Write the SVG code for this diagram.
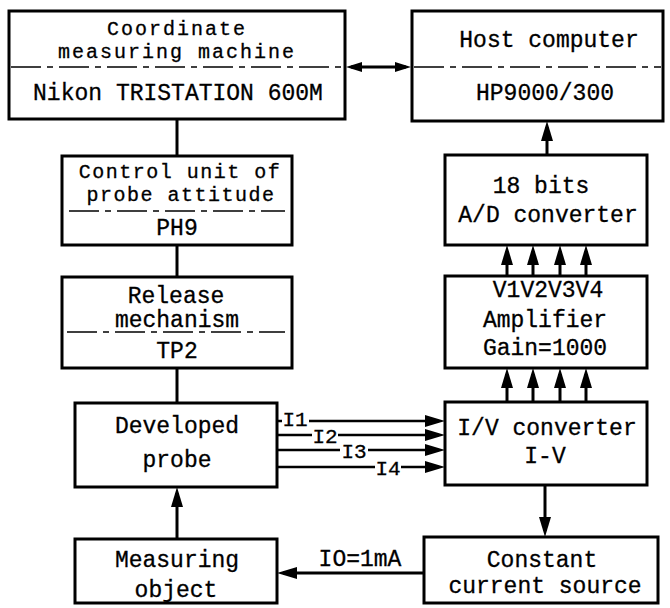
<svg xmlns="http://www.w3.org/2000/svg" width="670" height="608" viewBox="0 0 670 608">
<style>
.box{fill:#fff;stroke:#000;stroke-width:3}
.sep{stroke:#000;stroke-width:1.6;stroke-dasharray:30 6 6 6;fill:none}
.t{font-family:"Liberation Mono","DejaVu Sans Mono",monospace;font-size:23px;fill:#000;text-anchor:middle;stroke:#000;stroke-width:0.3}
.s{font-size:21px}
.n{font-size:20px;letter-spacing:2px}
.c{stroke:#000;stroke-width:3;fill:none}
.ci{stroke:#000;stroke-width:2.5;fill:none}
.a{marker-end:url(#ah)}
</style>
<defs>
<marker id="ah" markerUnits="userSpaceOnUse" markerWidth="20" markerHeight="12" refX="14" refY="6" orient="auto-start-reverse">
<path d="M0,0 L20,6 L0,12 z" fill="#000"/>
</marker>
<marker id="ahs" markerUnits="userSpaceOnUse" markerWidth="16" markerHeight="10" refX="11" refY="5" orient="auto-start-reverse">
<path d="M0,0 L16,5 L0,10 z" fill="#000"/>
</marker>
</defs>
<g id="connectors">
<line class="c" x1="177" y1="119" x2="177" y2="156"/>
<line class="c" x1="177" y1="245" x2="177" y2="277"/>
<line class="c" x1="177" y1="368" x2="177" y2="403"/>
<line class="c" x1="351" y1="67" x2="406" y2="67" marker-start="url(#ahs)" marker-end="url(#ahs)"/>
<line class="c a" x1="547" y1="155" x2="547" y2="127"/>
<line class="c a" x1="507" y1="276" x2="507" y2="251"/>
<line class="c a" x1="533" y1="276" x2="533" y2="251"/>
<line class="c a" x1="560" y1="276" x2="560" y2="251"/>
<line class="c a" x1="586" y1="276" x2="586" y2="251"/>
<line class="c a" x1="507" y1="402" x2="507" y2="374"/>
<line class="c a" x1="533" y1="402" x2="533" y2="374"/>
<line class="c a" x1="560" y1="402" x2="560" y2="374"/>
<line class="c a" x1="586" y1="402" x2="586" y2="374"/>
<line class="c a" x1="545" y1="485" x2="545" y2="531"/>
<line class="c a" x1="177" y1="539" x2="177" y2="493"/>
<line class="c a" x1="424" y1="573" x2="283" y2="573"/>
<line class="ci" x1="277" y1="421" x2="282" y2="421"/>
<line class="ci a" x1="309" y1="421" x2="439" y2="421"/>
<line class="ci" x1="277" y1="435" x2="312" y2="435"/>
<line class="ci a" x1="338" y1="435" x2="439" y2="435"/>
<line class="ci" x1="277" y1="450" x2="340" y2="450"/>
<line class="ci a" x1="368" y1="450" x2="439" y2="450"/>
<line class="ci" x1="277" y1="467" x2="375" y2="467"/>
<line class="ci a" x1="401" y1="467" x2="439" y2="467"/>
<text class="t s" x="295" y="426">I1</text>
<text class="t s" x="325" y="443">I2</text>
<text class="t s" x="354" y="458">I3</text>
<text class="t s" x="388" y="475">I4</text>
<text class="t" x="360" y="566">IO=1mA</text>
</g>
<g id="cmm">
<rect class="box" x="9" y="11" width="336" height="108"/>
<line class="sep" x1="11" y1="67" x2="343" y2="67"/>
<text class="t n" x="177" y="35">Coordinate</text>
<text class="t n" x="177" y="58">measuring machine</text>
<text class="t" x="178" y="100">Nikon  TRISTATION 600M</text>
</g>
<g id="host">
<rect class="box" x="412" y="11" width="251" height="110"/>
<line class="sep" x1="414" y1="67" x2="661" y2="67"/>
<text class="t" x="549" y="47">Host computer</text>
<text class="t" x="545" y="100">HP9000/300</text>
</g>
<g id="control">
<rect class="box" x="62" y="156" width="230" height="89"/>
<line class="sep" x1="69" y1="211" x2="285" y2="211"/>
<text class="t n" x="180" y="178" style="letter-spacing:1.5px">Control unit of</text>
<text class="t n" x="181" y="201" style="letter-spacing:1.5px">probe attitude</text>
<text class="t" x="177" y="235">PH9</text>
</g>
<g id="release">
<rect class="box" x="62" y="277" width="230" height="91"/>
<line class="sep" x1="67" y1="332" x2="285" y2="332"/>
<text class="t" x="176" y="303">Release</text>
<text class="t" x="177" y="327">mechanism</text>
<text class="t" x="177" y="358">TP2</text>
</g>
<g id="probe">
<rect class="box" x="75" y="403" width="202" height="84"/>
<text class="t" x="177" y="433">Developed</text>
<text class="t" x="177" y="467">probe</text>
</g>
<g id="object">
<rect class="box" x="75" y="539" width="202" height="64"/>
<text class="t" x="177" y="567">Measuring</text>
<text class="t" x="176" y="597">object</text>
</g>
<g id="adc">
<rect class="box" x="445" y="155" width="202" height="90"/>
<text class="t" x="541" y="193">18 bits</text>
<text class="t" x="548" y="222">A/D converter</text>
</g>
<g id="amp">
<rect class="box" x="445" y="276" width="202" height="92"/>
<text class="t" x="548" y="297">V1V2V3V4</text>
<text class="t" x="545" y="327">Amplifier</text>
<text class="t" x="545" y="355">Gain=1000</text>
</g>
<g id="ivconv">
<rect class="box" x="445" y="402" width="202" height="83"/>
<text class="t" x="547" y="435">I/V converter</text>
<text class="t" x="545" y="463">I-V</text>
</g>
<g id="ccs">
<rect class="box" x="424" y="537" width="234" height="66"/>
<text class="t" x="542" y="567">Constant</text>
<text class="t" x="545" y="593">current source</text>
</g>
</svg>
